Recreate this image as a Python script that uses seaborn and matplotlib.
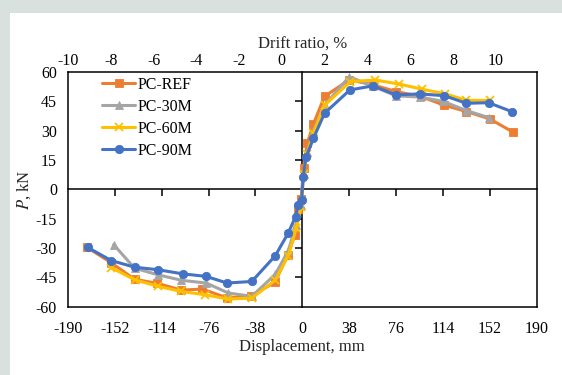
import matplotlib
matplotlib.use("Agg")
import matplotlib.pyplot as plt
import seaborn as sns
import pandas as pd
from matplotlib.patches import Rectangle

# ---------------- data ----------------
ref_x = [-175, -155, -136, -118, -98, -81, -61, -42, -22, -12, -6, -3.5, -1, 1, 4, 9, 18, 38, 57, 76, 96, 115, 133, 152, 171]
ref_y = [-29.5, -37.5, -46, -48, -51.5, -51, -55.5, -54.5, -47.5, -33.5, -23.5, -10, -5, 11, 23.5, 33.5, 47.5, 56, 53.5, 50, 47.5, 43, 39.8, 36, 29.2]

m30_x = [-153, -136, -117, -98, -78, -60, -41, -22, -11.5, -5, -1, 1, 4, 9, 18, 38, 57, 76, 95, 114, 133, 151]
m30_y = [-28.3, -40.3, -43.7, -46.5, -47.9, -53, -54.7, -43.5, -31.5, -18, -8, 8, 19, 30, 43, 57.6, 52.8, 47.8, 47.2, 45, 40.3, 36.7]

m60_x = [-155, -136, -117, -98, -79, -60, -41, -22, -11.5, -5, -1, 1, 4, 9, 18, 39, 59, 78, 97, 116, 133, 152]
m60_y = [-40, -46.2, -49.6, -52.2, -53.9, -56.1, -55.6, -46.5, -34, -20, -9, 8, 18, 29, 43, 55.1, 55.9, 53.9, 51.2, 48.8, 45.5, 45.5]

m90_x = [-174, -155, -136, -117, -97, -78, -61, -41, -22, -11.5, -5.5, -3.4, -0.6, 0.7, 3, 9, 18, 38.5, 57, 76, 95, 115, 133, 151, 170]
m90_y = [-29.7, -36.4, -39.8, -41.1, -43.2, -44.5, -47.9, -47.1, -34, -22.4, -13.9, -8, -5.4, 6.5, 16.4, 26.1, 38.9, 50.8, 52.9, 48.3, 48.8, 47.9, 44, 44.3, 39.7]

labels = ["PC-REF", "PC-30M", "PC-60M", "PC-90M"]
colors = ["#ED7D31", "#A5A5A5", "#FFC000", "#4472C4"]
markers = ["s", "^", "x", "o"]

x_ticks = [-190, -152, -114, -76, -38, 0, 38, 76, 114, 152, 190]
y_ticks = [-60, -45, -30, -15, 0, 15, 30, 45, 60]
drift_ticks = [-10, -8, -6, -4, -2, 0, 2, 4, 6, 8, 10]

# ---------------- style ----------------
sns.set_theme(style="white")
plt.rcParams["font.family"] = ["Liberation Serif", "DejaVu Serif"]
plt.rcParams["mathtext.fontset"] = "stix"
plt.rcParams["axes.unicode_minus"] = False

fig = plt.figure(figsize=(5.62, 3.75), dpi=100)
fig.patch.set_facecolor("#d9e1de")
fig.patches.append(Rectangle((10 / 562, 0), 1 - 10 / 562, 1 - 13 / 375,
                             transform=fig.transFigure, facecolor="white",
                             edgecolor="none", zorder=0))

pos = [68 / 562, (375 - 306.7) / 375, (536.7 - 68) / 562, (306.7 - 72) / 375]

# background axes: zero lines with tick marks
ax0 = fig.add_axes(pos, facecolor="none", zorder=1)
ax0.set_xlim(-190, 190)
ax0.set_ylim(-60, 60)
ax0.spines["left"].set_position(("data", 0))
ax0.spines["bottom"].set_position(("data", 0))
ax0.spines["top"].set_visible(False)
ax0.spines["right"].set_visible(False)
for s in ("left", "bottom"):
    ax0.spines[s].set_color("black")
    ax0.spines[s].set_linewidth(1.1)
ax0.set_xticks([t for t in x_ticks if t not in (0, -190, 190)])
ax0.set_yticks([t for t in y_ticks if t not in (0, -60, 60)])
ax0.tick_params(axis="both", direction="out", length=5, width=1.1, color="black",
                labelbottom=False, labelleft=False, bottom=True, left=True)

# main axes
ax = fig.add_axes(pos, facecolor="none", zorder=2)
series = [(ref_x, ref_y), (m30_x, m30_y), (m60_x, m60_y), (m90_x, m90_y)]
for (xs, ys), lab, col, mk in zip(series, labels, colors, markers):
    df = pd.DataFrame({"x": xs, "y": ys})
    sns.lineplot(data=df, x="x", y="y", ax=ax, sort=False, estimator=None,
                 color=col, linewidth=2.2, marker=mk, markersize=6,
                 markeredgecolor=col, markeredgewidth=1.3 if mk == "x" else 0.6,
                 label=lab)

ax.set_xlim(-190, 190)
ax.set_ylim(-60, 60)
ax.set_xticks(x_ticks)
ax.set_yticks(y_ticks)
ax.tick_params(axis="x", length=0, labelsize=11.5, pad=10, colors="black")
ax.tick_params(axis="y", length=0, labelsize=11.5, pad=8, colors="black")
for s in ax.spines.values():
    s.set_color("black")
    s.set_linewidth(1.1)
    s.set_visible(True)
ax.set_xlabel("Displacement, mm", fontsize=12, labelpad=2)
ax.set_ylabel("$P$, kN", fontsize=12, labelpad=2)

leg = ax.legend(loc="upper left", bbox_to_anchor=(0.072, 0.98), frameon=False,
                fontsize=11.5, handlelength=2.1, handletextpad=0.15,
                labelspacing=0.38, borderaxespad=0, borderpad=0)
for t in leg.get_texts():
    t.set_color("black")

# top drift-ratio axis
axt = ax.twiny()
axt.set_xlim(-10, 11.92)
axt.set_xticks(drift_ticks)
axt.tick_params(axis="x", length=0, labelsize=11.5, pad=2, colors="black")
axt.set_xlabel("Drift ratio, %", fontsize=12, labelpad=3)
for s in axt.spines.values():
    s.set_visible(False)

fig.savefig("out.png", dpi=100, facecolor=fig.get_facecolor())
